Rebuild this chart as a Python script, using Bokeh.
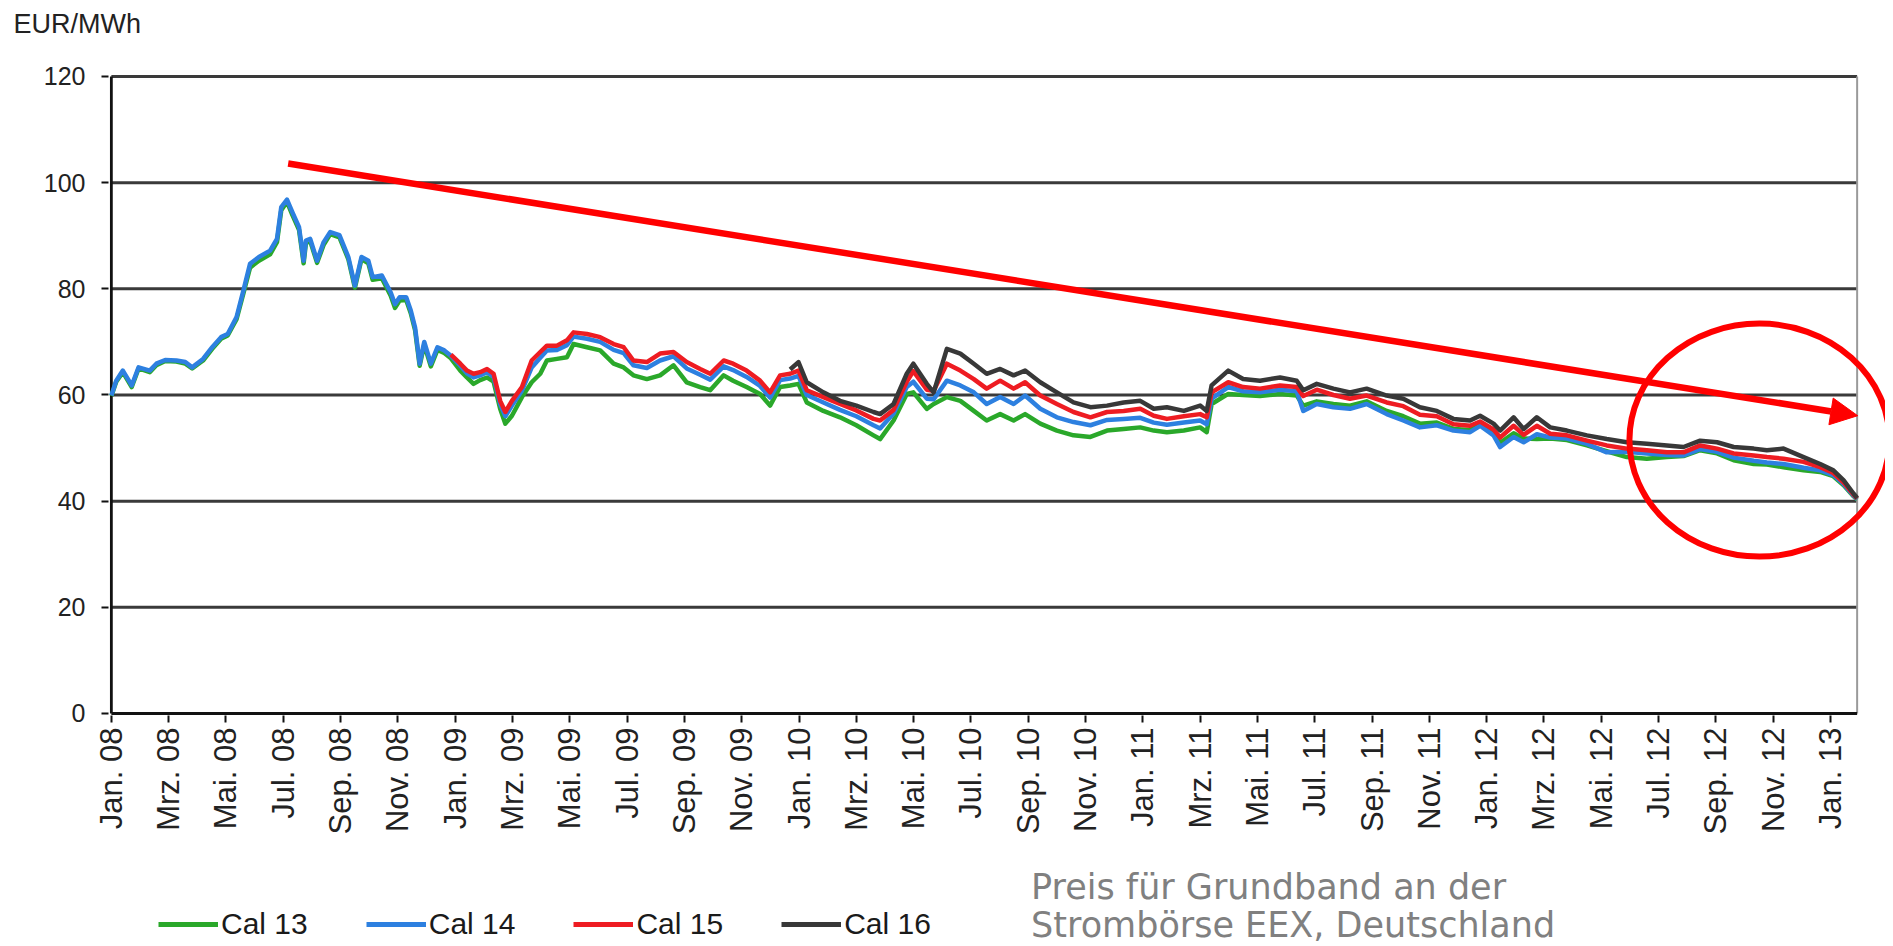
import math
import numpy as np
from bokeh.plotting import figure
from bokeh.layouts import column
from bokeh.models import Range1d, FixedTicker, Arrow, NormalHead, Label, ColumnDataSource
from bokeh.embed import file_html
from bokeh.resources import INLINE

# ---------------- data (x = months since Jan 2008) ----------------
months = [
    0.0, 0.17, 0.40, 0.71, 0.95, 1.34, 1.57, 1.88, 2.27, 2.58,
    2.82, 3.20, 3.52, 3.83, 4.06, 4.37, 4.61, 4.84, 5.15, 5.54,
    5.78, 5.93, 6.13, 6.32, 6.55, 6.71, 6.79, 6.94, 7.18, 7.41,
    7.64, 7.96, 8.27, 8.50, 8.73, 8.97, 9.12, 9.44, 9.75, 9.90,
    10.06, 10.29, 10.45, 10.60, 10.76, 10.92, 11.15, 11.38, 11.62, 11.85,
    12.18, 12.41, 12.64, 12.87, 13.11, 13.34, 13.57, 13.75, 13.98, 14.33,
    14.67, 14.97, 15.2, 15.55, 15.9, 16.13, 16.6, 17.06, 17.53, 17.88,
    18.22, 18.69, 19.15, 19.62, 20.08, 20.55, 20.9, 21.37, 21.7, 22.17,
    22.64, 22.99, 23.34, 23.69, 23.98, 24.27, 24.85, 25.43, 26.0, 26.6,
    26.83, 27.3, 27.76,
    27.99, 28.46, 28.7, 29.16, 29.63, 30.1, 30.55, 31.02, 31.49, 31.89,
    32.42, 33.0, 33.58, 34.17, 34.75, 35.33, 35.91, 36.38, 36.84, 37.43,
    38.0, 38.23, 38.4, 38.98, 39.5, 40.09, 40.79, 41.37, 41.6, 42.07,
    42.65, 43.23, 43.81,
    44.51, 45.09, 45.67, 46.26, 46.84, 47.42, 47.77, 48.24, 48.47, 48.94,
    49.29, 49.75, 50.22, 50.8, 51.5, 52.19, 52.89, 53.59, 54.29, 54.87,
    55.45, 56.04, 56.62, 57.32, 57.78, 58.36, 59.06, 59.64, 60.1, 60.46,
    60.81, 60.93,
]

cal13 = [
    59.8, 62.5, 64.3, 61.5, 65.0, 64.3, 65.6, 66.4, 66.3, 65.9,
    65.0, 66.5, 68.7, 70.6, 71.2, 74.3, 79.2, 84.0, 85.3, 86.5,
    88.8, 94.8, 96.4, 93.9, 91.1, 84.8, 88.6, 89.0, 84.9, 88.3,
    90.3, 89.7, 85.6, 80.2, 85.6, 84.8, 81.7, 82.0, 78.7, 76.4,
    77.8, 77.9, 75.4, 72.2, 65.5, 69.5, 65.4, 68.5, 67.9, 66.9,
    64.6, 63.3, 62.1, 62.8, 63.3, 62.5, 57.4, 54.6, 56.1, 59.6,
    62.4, 64.0, 66.5, 66.8, 67.1, 69.6, 69.0, 68.4, 65.9, 65.2,
    63.7, 63.0, 63.7, 65.6, 62.4, 61.5, 60.9, 63.7, 62.7, 61.5,
    60.2, 58.0, 61.5, 61.8, 62.1, 58.6, 57.0, 55.8, 54.3, 52.4,
    51.7, 55.2, 60.2,
    60.5, 57.4, 58.3, 59.6, 58.9, 57.0, 55.2, 56.4, 55.2, 56.4,
    54.6, 53.3, 52.4, 52.1, 53.3, 53.6, 53.9, 53.3, 53.0, 53.3,
    53.9, 53.0, 58.3, 60.2, 60.0, 59.8, 60.2, 59.9, 58.0, 58.8,
    58.3, 58.0, 58.8,
    57.0, 56.0, 54.6, 54.8, 53.6, 53.4, 54.4, 52.8, 51.0, 52.8,
    51.8, 51.7, 51.8, 51.5, 50.5, 49.4, 48.3, 48.0, 48.3, 48.5,
    49.6, 49.0, 47.7, 47.0, 46.9, 46.4, 45.8, 45.5, 44.7, 43.0,
    40.9, 40.3,
]

cal14 = [
    59.9, 62.7, 64.6, 61.8, 65.2, 64.6, 65.9, 66.6, 66.5, 66.2,
    65.2, 66.8, 69.0, 70.9, 71.5, 74.7, 79.7, 84.7, 86.0, 87.2,
    89.4, 95.4, 96.8, 94.4, 91.6, 85.3, 89.1, 89.4, 85.3, 88.8,
    90.7, 90.1, 86.0, 80.6, 86.0, 85.3, 82.2, 82.5, 79.3, 77.1,
    78.4, 78.4, 75.9, 72.7, 65.9, 70.0, 65.9, 69.0, 68.4, 67.4,
    65.5, 64.1, 63.3, 63.7, 64.3, 63.4, 58.3, 56.0, 58.0, 60.8,
    65.2, 67.0, 68.4, 68.5, 69.4, 71.0, 70.6, 70.0, 68.5, 67.9,
    65.6, 65.1, 66.5, 67.3, 65.0, 63.8, 62.9, 65.4, 64.7, 63.4,
    61.7, 59.5, 62.8, 63.1, 63.6, 60.0, 58.6, 57.2, 56.0, 54.3,
    53.7, 56.5, 61.5,
    62.5, 59.3, 59.2, 62.7, 61.8, 60.5, 58.3, 59.6, 58.3, 59.9,
    57.4, 55.8, 54.9, 54.3, 55.3, 55.5, 55.7, 54.8, 54.4, 54.8,
    55.2, 54.5, 59.3, 61.5, 60.7, 60.5, 61.0, 60.7, 57.0, 58.3,
    57.7, 57.4, 58.3,
    56.4, 55.2, 53.9, 54.3, 53.3, 53.0, 54.2, 52.4, 50.2, 52.1,
    51.1, 52.6, 52.0, 51.8, 50.8, 49.2, 49.3, 49.0, 48.7, 48.6,
    49.8, 49.3, 48.2, 47.6, 47.3, 47.0, 46.3, 45.8, 44.9, 43.2,
    41.0, 40.4,
]

cal15 = [None] * 49 + [
    67.6,
    65.9, 64.6, 64.0, 64.3, 64.9, 64.0, 58.9, 56.8, 58.9, 61.5,
    66.5, 68.1, 69.3, 69.3, 70.3, 71.8, 71.5, 70.9, 69.6, 69.0,
    66.5, 66.2, 67.8, 68.1, 66.2, 64.9, 64.0, 66.5, 65.9, 64.6,
    62.7, 60.5, 63.7, 64.0, 64.6, 60.9, 59.6, 58.3, 57.1, 55.5,
    55.2, 57.2, 62.5,
    64.5, 61.0, 60.8, 65.9, 64.6, 63.0, 61.2, 62.7, 61.2, 62.4,
    59.9, 58.3, 56.8, 55.8, 56.8, 57.0, 57.4, 56.1, 55.5, 56.0,
    56.4, 55.8, 60.5, 62.4, 61.5, 61.2, 61.8, 61.5, 59.8, 61.0,
    60.0, 59.3, 59.9,
    58.6, 57.9, 56.3, 56.0, 54.5, 54.2, 55.0, 53.5, 52.0, 54.2,
    52.5, 54.2, 52.7, 52.4, 51.4, 50.5, 49.9, 49.6, 49.2, 49.2,
    50.5, 49.9, 49.0, 48.6, 48.3, 48.0, 47.4, 46.4, 45.3, 43.5,
    41.2, 40.5,
]

cal16 = [None] * 83 + [
    64.8, 66.2, 62.4, 60.5, 58.9, 58.0, 56.8, 56.4, 58.3, 64.0,
    65.9, 62.1, 60.5, 68.7, 67.8, 65.9, 64.0, 64.9, 63.7, 64.6,
    62.4, 60.5, 58.6, 57.7, 58.0, 58.6, 58.9, 57.4, 57.7, 57.0,
    58.0, 57.0, 61.8, 64.6, 63.0, 62.7, 63.3, 62.7, 60.9, 62.1,
    61.2, 60.5, 61.2,
    59.9, 59.3, 57.7, 57.0, 55.5, 55.2, 56.1, 54.6, 53.3, 55.8,
    53.6, 55.8, 53.9, 53.3, 52.4, 51.7, 51.1, 50.8, 50.5, 50.2,
    51.4, 51.1, 50.2, 49.9, 49.6, 49.9, 48.3, 47.0, 45.8, 43.9,
    41.4, 40.6,
]

series_names = ["Cal 13", "Cal 14", "Cal 15", "Cal 16"]
series_colors = ["#2aa82a", "#2d80e0", "#ee1c22", "#383838"]

x_ticks = list(range(0, 61, 2))
x_tick_labels = [
    "Jan. 08", "Mrz. 08", "Mai. 08", "Jul. 08", "Sep. 08", "Nov. 08",
    "Jan. 09", "Mrz. 09", "Mai. 09", "Jul. 09", "Sep. 09", "Nov. 09",
    "Jan. 10", "Mrz. 10", "Mai. 10", "Jul. 10", "Sep. 10", "Nov. 10",
    "Jan. 11", "Mrz. 11", "Mai. 11", "Jul. 11", "Sep. 11", "Nov. 11",
    "Jan. 12", "Mrz. 12", "Mai. 12", "Jul. 12", "Sep. 12", "Nov. 12",
    "Jan. 13",
]
y_ticks = [0, 20, 40, 60, 80, 100, 120]
x_last = 60.93  # right border of the chart area (early Feb 2013)

unit_label = "EUR/MWh"
caption_lines = ["Preis für Grundband an der", "Strombörse EEX, Deutschland"]

# annotation geometry
arrow_start = (6.17, 103.6)
arrow_end = (60.95, 56.1)
circle_center = (57.52, 51.5)
caption_x = 32.1

FONT = "Liberation Sans"

# ---------------- main chart ----------------
p = figure(width=1885, height=850,
           x_range=Range1d(-0.1, 61.92), y_range=Range1d(-0.377, 120.565),
           output_backend="svg", toolbar_location=None,
           min_border_left=108, min_border_right=0,
           min_border_top=73, min_border_bottom=135)
p.outline_line_color = None
p.xgrid.visible = False
p.ygrid.visible = False
p.background_fill_color = "white"

# unit label at the top left (second, blank line lifts it towards the top edge)
p.title.text = unit_label + "\n "
p.title.align = "left"
p.title.vertical_align = "top"
p.title.offset = -95
p.title.standoff = 6
p.title.text_font = FONT
p.title.text_font_size = "27px"
p.title.text_font_style = "normal"
p.title.text_color = "#222222"

# horizontal grid lines ending at the right border
gl = y_ticks[1:]
p.segment(x0=[0] * len(gl), y0=gl, x1=[x_last] * len(gl), y1=gl,
          line_color="#3a3a3a", line_width=3)
# right border
p.segment(x0=[x_last], y0=[0], x1=[x_last], y1=[120], line_color="#9a9a9a", line_width=2)
# axis lines
p.segment(x0=[0, 0], y0=[0, 0], x1=[x_last, 0], y1=[0, 120], line_color="#111111", line_width=2.8)

src = ColumnDataSource(dict(
    m=np.array(months, dtype=float),
    c13=np.array(cal13, dtype=float),
    c14=np.array(cal14, dtype=float),
    c15=np.array([np.nan if v is None else v for v in cal15], dtype=float),
    c16=np.array([np.nan if v is None else v for v in cal16], dtype=float),
))
for col, color in zip(["c13", "c14", "c15", "c16"], series_colors):
    p.line("m", col, source=src, line_color=color, line_width=4.5, line_join="round")

# red trend arrow and circle
p.add_layout(Arrow(end=NormalHead(size=27, fill_color="#ff0000", line_color="#ff0000", line_width=1),
                   x_start=arrow_start[0], y_start=arrow_start[1],
                   x_end=arrow_end[0], y_end=arrow_end[1],
                   line_color="#ff0000", line_width=6.5))
p.ellipse(x=[circle_center[0]], y=[circle_center[1]], width=260, height=233,
          width_units="screen", height_units="screen",
          fill_color=None, line_color="#ff0000", line_width=6)

# axes
for ax in (p.xaxis[0], p.yaxis[0]):
    ax.axis_line_alpha = 0
    ax.major_tick_in = 0
    ax.major_tick_out = 7
    ax.minor_tick_out = 0
    ax.minor_tick_in = 0
    ax.major_tick_line_color = "#111111"
    ax.major_tick_line_width = 2
    ax.major_label_text_font = FONT
    ax.major_label_text_color = "#222222"

p.xaxis.ticker = FixedTicker(ticks=x_ticks)
p.xaxis.major_label_overrides = {t: lab for t, lab in zip(x_ticks, x_tick_labels)}
p.xaxis.major_label_orientation = math.pi / 2
p.xaxis.major_label_text_font_size = "31px"
p.xaxis.major_label_standoff = 5

p.yaxis.ticker = FixedTicker(ticks=y_ticks)
p.yaxis.major_label_text_font_size = "25px"
p.yaxis.major_label_standoff = 16

# ---------------- legend + caption strip ----------------
q = figure(width=1885, height=96, x_range=p.x_range, y_range=Range1d(0, 96),
           output_backend="svg", toolbar_location=None, title=None,
           x_axis_type=None, y_axis_type=None,
           min_border_left=108, min_border_right=0, min_border_top=0, min_border_bottom=0)
q.outline_line_color = None
q.xgrid.visible = False
q.ygrid.visible = False
for name, color in zip(series_names, series_colors):
    q.line(x=[np.nan], y=[np.nan], line_color=color, line_width=5, legend_label=name)

lg = q.legend[0]
lg.orientation = "horizontal"
lg.location = (50, 5)
lg.glyph_width = 60
lg.glyph_height = 20
lg.label_height = 20
lg.label_standoff = 3
lg.spacing = 58
lg.padding = 0
lg.margin = 0
lg.label_text_font = FONT
lg.label_text_font_size = "30px"
lg.label_text_color = "#1a1a1a"
lg.background_fill_alpha = 0
lg.border_line_alpha = 0

q.add_layout(Label(x=caption_x, y=59.5, text=caption_lines[0], text_font="DejaVu Sans",
                   text_font_size="35px", text_color="#808080", text_baseline="middle"))
q.add_layout(Label(x=caption_x, y=21.5, text=caption_lines[1], text_font="DejaVu Sans",
                   text_font_size="35px", text_color="#808080", text_baseline="middle"))

layout = column(p, q, spacing=0)
open("out.html", "w").write(file_html(layout, INLINE))
